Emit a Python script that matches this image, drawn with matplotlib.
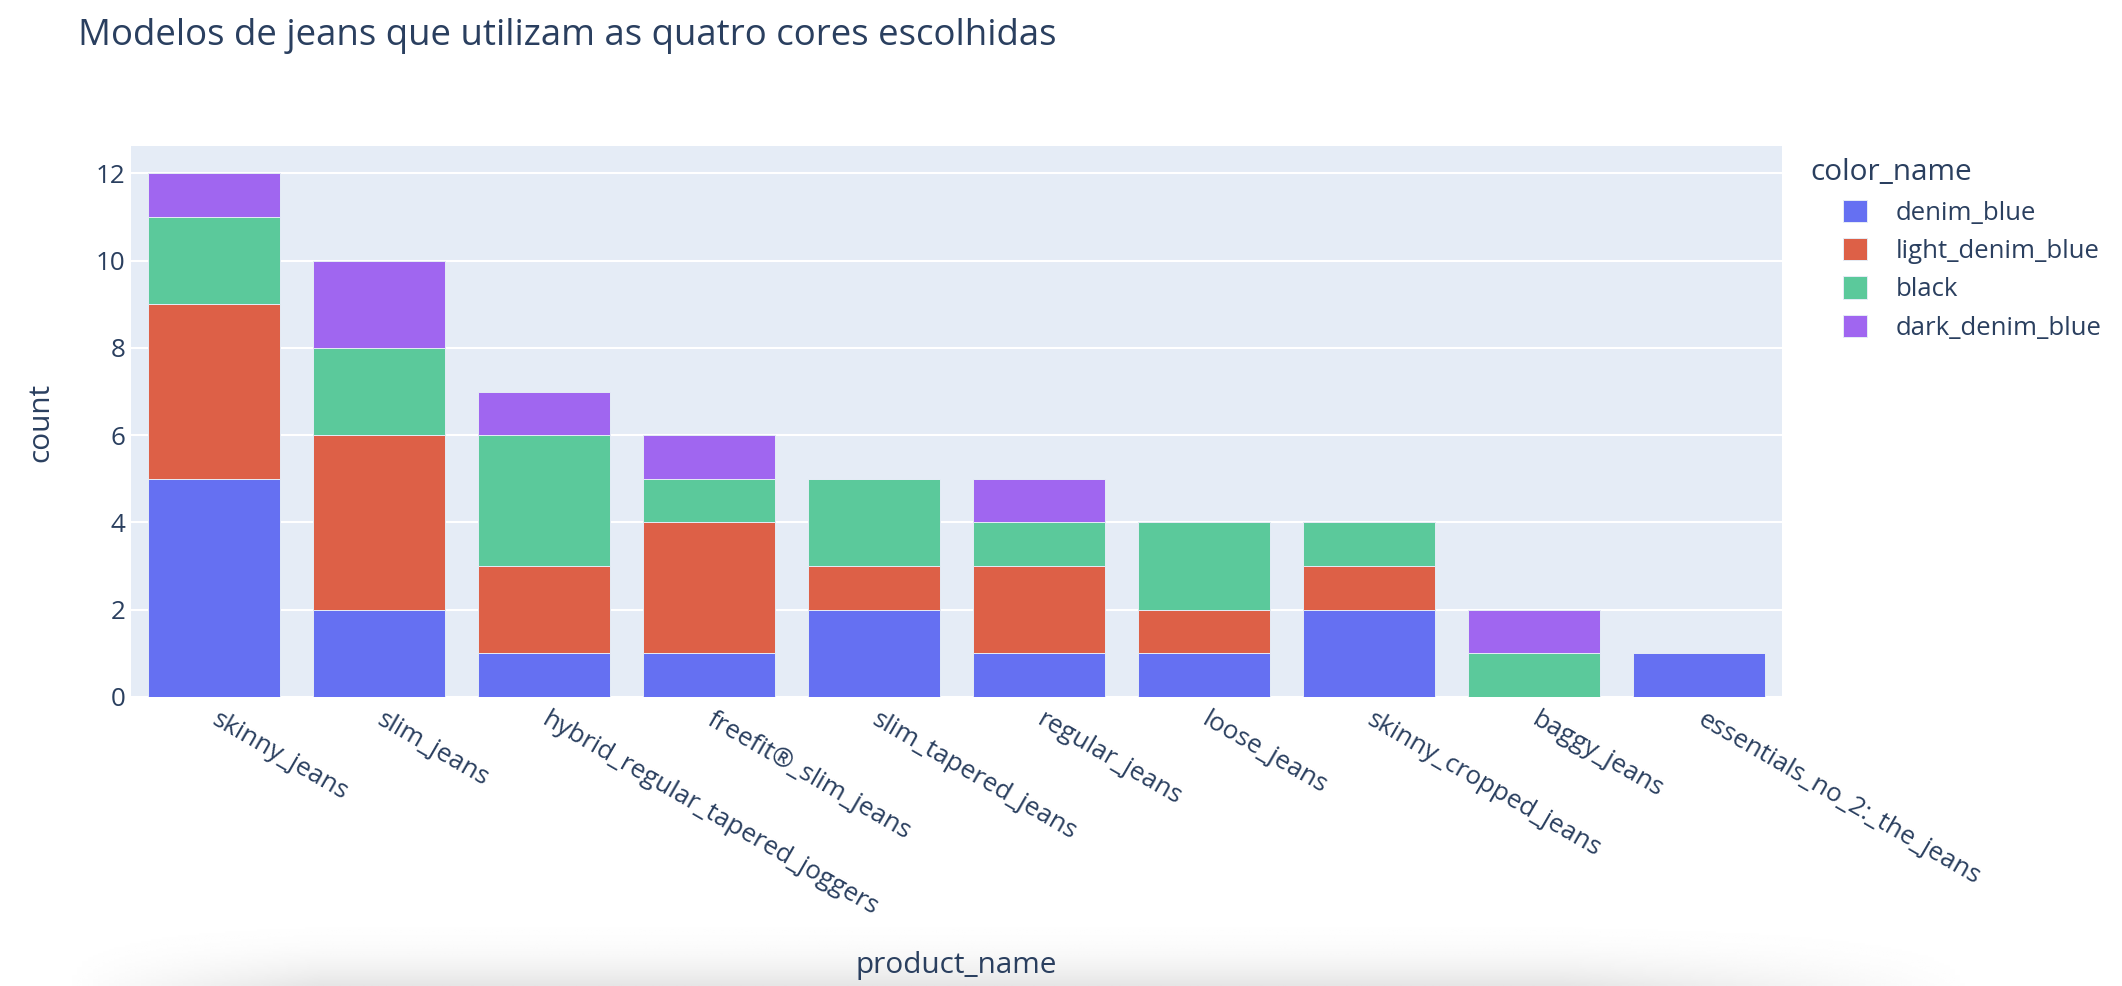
import numpy as np
import matplotlib
matplotlib.use("Agg")
import matplotlib.pyplot as plt
from matplotlib.patches import Patch

plt.rcParams['font.family'] = ['Open Sans', 'DejaVu Sans']

products = ['skinny_jeans', 'slim_jeans', 'hybrid_regular_tapered_joggers',
            'freefit®_slim_jeans', 'slim_tapered_jeans', 'regular_jeans',
            'loose_jeans', 'skinny_cropped_jeans', 'baggy_jeans',
            'essentials_no_2:_the_jeans']
color_names = ['denim_blue', 'light_denim_blue', 'black', 'dark_denim_blue']
denim_blue = [5, 2, 1, 1, 2, 1, 1, 2, 0, 1]
light_denim_blue = [4, 4, 2, 3, 1, 2, 1, 1, 0, 0]
black = [2, 2, 3, 1, 2, 1, 2, 1, 1, 0]
dark_denim_blue = [1, 2, 1, 1, 0, 1, 0, 0, 1, 0]
series = [denim_blue, light_denim_blue, black, dark_denim_blue]
bar_colors = ['#6570F2', '#DD6047', '#5BC99B', '#A066F0']

TEXT = '#2a3f5f'
W, H = 2122, 986

fig = plt.figure(figsize=(W / 100, H / 100), dpi=100)

# soft screenshot shadow at the bottom
sh = fig.add_axes([0, 0, 1, 0.12], zorder=-5)
xx, yy = np.meshgrid(np.linspace(0, W, 400), np.linspace(0, 0.12 * H, 60))
ydark = np.clip((70 - yy) / 70, 0, 1) ** 1.6
xenv = np.clip((xx - 60) / 260, 0, 1) * np.clip((1980 - xx) / 420, 0, 1)
xenv = xenv * (0.55 + 0.45 * np.clip((40 - yy) / 40, 0, 1))
dark = 0.10 * ydark * xenv
sh.imshow(1 - dark, cmap='gray', vmin=0, vmax=1, origin='lower',
          aspect='auto', extent=[0, W, 0, 0.12 * H], interpolation='bilinear')
sh.axis('off')

ax = fig.add_axes([131 / W, 1 - 697 / H, (1782 - 131) / W, (697 - 146) / H])
ax.set_facecolor('#E5ECF6')

x = np.arange(len(products))
bottom = np.zeros(len(products))
handles = []
for name, vals, col in zip(color_names, series, bar_colors):
    ax.bar(x, vals, width=0.8, bottom=bottom, color=col,
           edgecolor='#E5ECF6', linewidth=0.7, zorder=3)
    bottom += np.array(vals)
    handles.append(Patch(facecolor=col, edgecolor='#E5ECF6', linewidth=0.7, label=name))

ax.set_xlim(-0.5, len(products) - 0.5)
ax.set_ylim(0, 12.63)
ax.set_yticks(range(0, 13, 2))
ax.grid(axis='y', color='white', linewidth=1.5, zorder=1)
ax.set_axisbelow(True)
for s in ax.spines.values():
    s.set_visible(False)
ax.tick_params(axis='both', length=0, labelsize=18.7, colors=TEXT)
ax.tick_params(axis='y', pad=4)
ax.set_xticks(x)
ax.set_xticklabels(products, rotation=-30, ha='left', va='center',
                   rotation_mode='anchor')
ax.tick_params(axis='x', pad=15)

fig.text(78 / W, 1 - 36 / H, 'Modelos de jeans que utilizam as quatro cores escolhidas',
         fontsize=26.4, color=TEXT, ha='left', va='center')
fig.text(41 / W, 1 - 422 / H, 'count', fontsize=21.4, color=TEXT,
         rotation=90, ha='center', va='center')
fig.text(956 / W, 1 - 965 / H, 'product_name', fontsize=21.4, color=TEXT,
         ha='center', va='center')

fig.text(1810 / W, 1 - 173 / H, 'color_name', fontsize=21.4, color=TEXT,
         ha='left', va='center')
leg = fig.legend(handles=handles, loc='upper left',
                 bbox_to_anchor=(1843 / W, 1 - 200 / H), frameon=False,
                 fontsize=18.5, handlelength=0.95, handleheight=0.95,
                 handletextpad=1.1, labelspacing=0.48, borderpad=0,
                 borderaxespad=0)
for t in leg.get_texts():
    t.set_color(TEXT)

fig.savefig('out.png', dpi=100, facecolor='white')
